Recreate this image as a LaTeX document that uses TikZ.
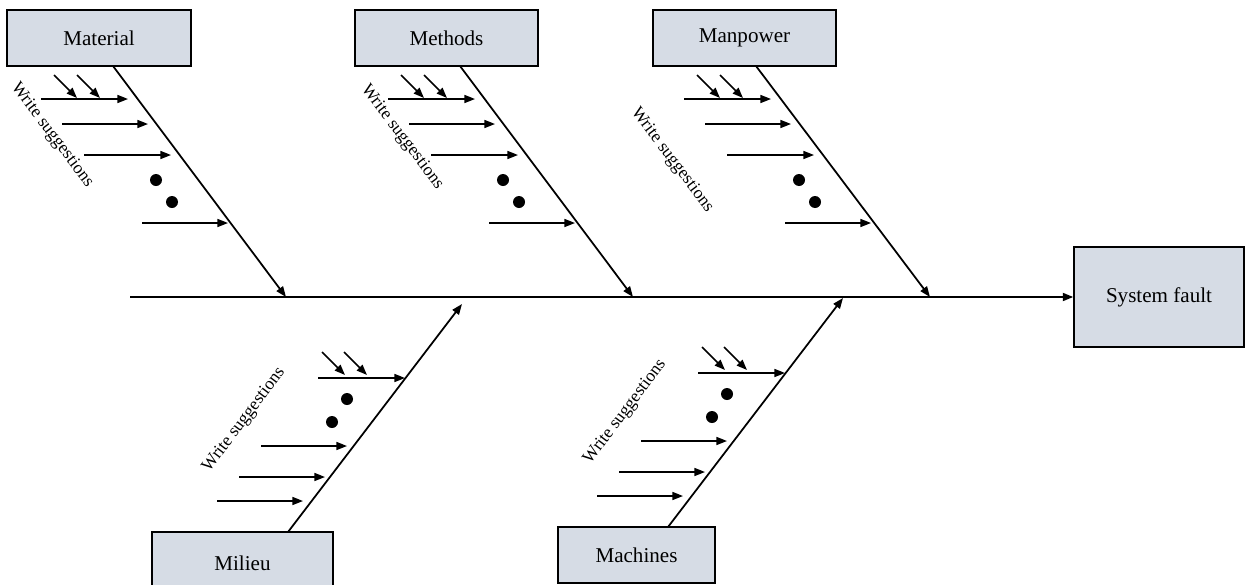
\documentclass[tikz,border=0pt]{standalone}
\usepackage{fontspec}
\setmainfont{Liberation Serif}
\usetikzlibrary{arrows.meta}
\definecolor{boxfill}{RGB}{214,220,229}
\tikzset{%
    cause/.style={draw, line width=0.8pt, fill=boxfill, minimum height=1.12cm,
        inner sep=0pt, font=\fontsize{12}{14}\selectfont},
    bone/.style={line width=1pt, -{Triangle[length=6pt,width=4.5pt]}},
    twig/.style={line width=0.9pt, -{Triangle[length=6pt,width=4.5pt]}},
    hint/.style={font=\fontsize{10}{12}\selectfont, inner sep=0pt}
}

\begin{document}
\begin{tikzpicture}[x=0.02cm,y=-0.02cm]
    \useasboundingbox (0,0) rectangle (1245,585);
    % cause boxes
    \node[cause, minimum width=3.68cm] (mat) at (99,38) {Material};
    \node[cause, minimum width=3.66cm] (meth) at (446.5,38) {Methods};
    \node[cause, minimum width=3.66cm] (man) at (744.5,38) {Manpower};
    \node[cause, minimum width=3.62cm, minimum height=1.24cm] (mil) at (242.5,563) {Milieu};
    \node[cause, minimum width=3.14cm] (mach) at (636.5,555) {Machines};
    \node[cause, minimum width=3.4cm, minimum height=2cm] (fault) at (1159,297) {System fault};
    % spine
    \coordinate (tail) at (130,297);
    \draw[bone, line width=1.2pt] (tail) -- (fault.west);
    % bones
    \coordinate (matT) at (113,66);   \coordinate (matH) at (286,297);
    \coordinate (methT) at (460,66);  \coordinate (methH) at (633,297);
    \coordinate (manT) at (756,66);   \coordinate (manH) at (930,297);
    \coordinate (milT) at (288,532);  \coordinate (milH) at (462,304);
    \coordinate (machT) at (668,527); \coordinate (machH) at (843,298);
    \foreach \b in {mat,meth,man,mil,mach}
    {
    \draw[bone] (\b T) -- (\b H);
    }
    % upper twigs
    \foreach \b/\lx/\ly in {mat/-61/69, meth/-58/71, man/-84/94}
    {
    \begin{scope}[shift={(\b T)}]
        \foreach \sx/\ex/\y in {-72/15/33, -51/35/58, -29/58/89, 29/115/157}
        {
        \draw[twig] (\sx,\y) -- (\ex,\y);
        }
        \foreach \sx in {-59,-36}
        {
        \draw[twig] (\sx,9) -- (\sx+23,32);
        }
        \fill (43,114) circle (6);
        \fill (59,136) circle (6);
        \node[hint, rotate=-53] (\b S) at (\lx,\ly) {Write suggestions};
    \end{scope}
    }
    % lower twigs
    \foreach \b/\lx/\ly in {mil/-44/-112, mach/-43/-115}
    {
    \begin{scope}[shift={(\b T)}]
        \foreach \sx/\ex/\y in {30/117/-154, -27/59/-86, -49/37/-55, -71/15/-31}
        {
        \draw[twig] (\sx,\y) -- (\ex,\y);
        }
        \foreach \sx in {34,56}
        {
        \draw[twig] (\sx,-180) -- (\sx+23,-157);
        }
        \fill (59,-133) circle (6);
        \fill (44,-110) circle (6);
        \node[hint, rotate=53] (\b S) at (\lx,\ly) {Write suggestions};
    \end{scope}
    }
\end{tikzpicture}
\end{document}
